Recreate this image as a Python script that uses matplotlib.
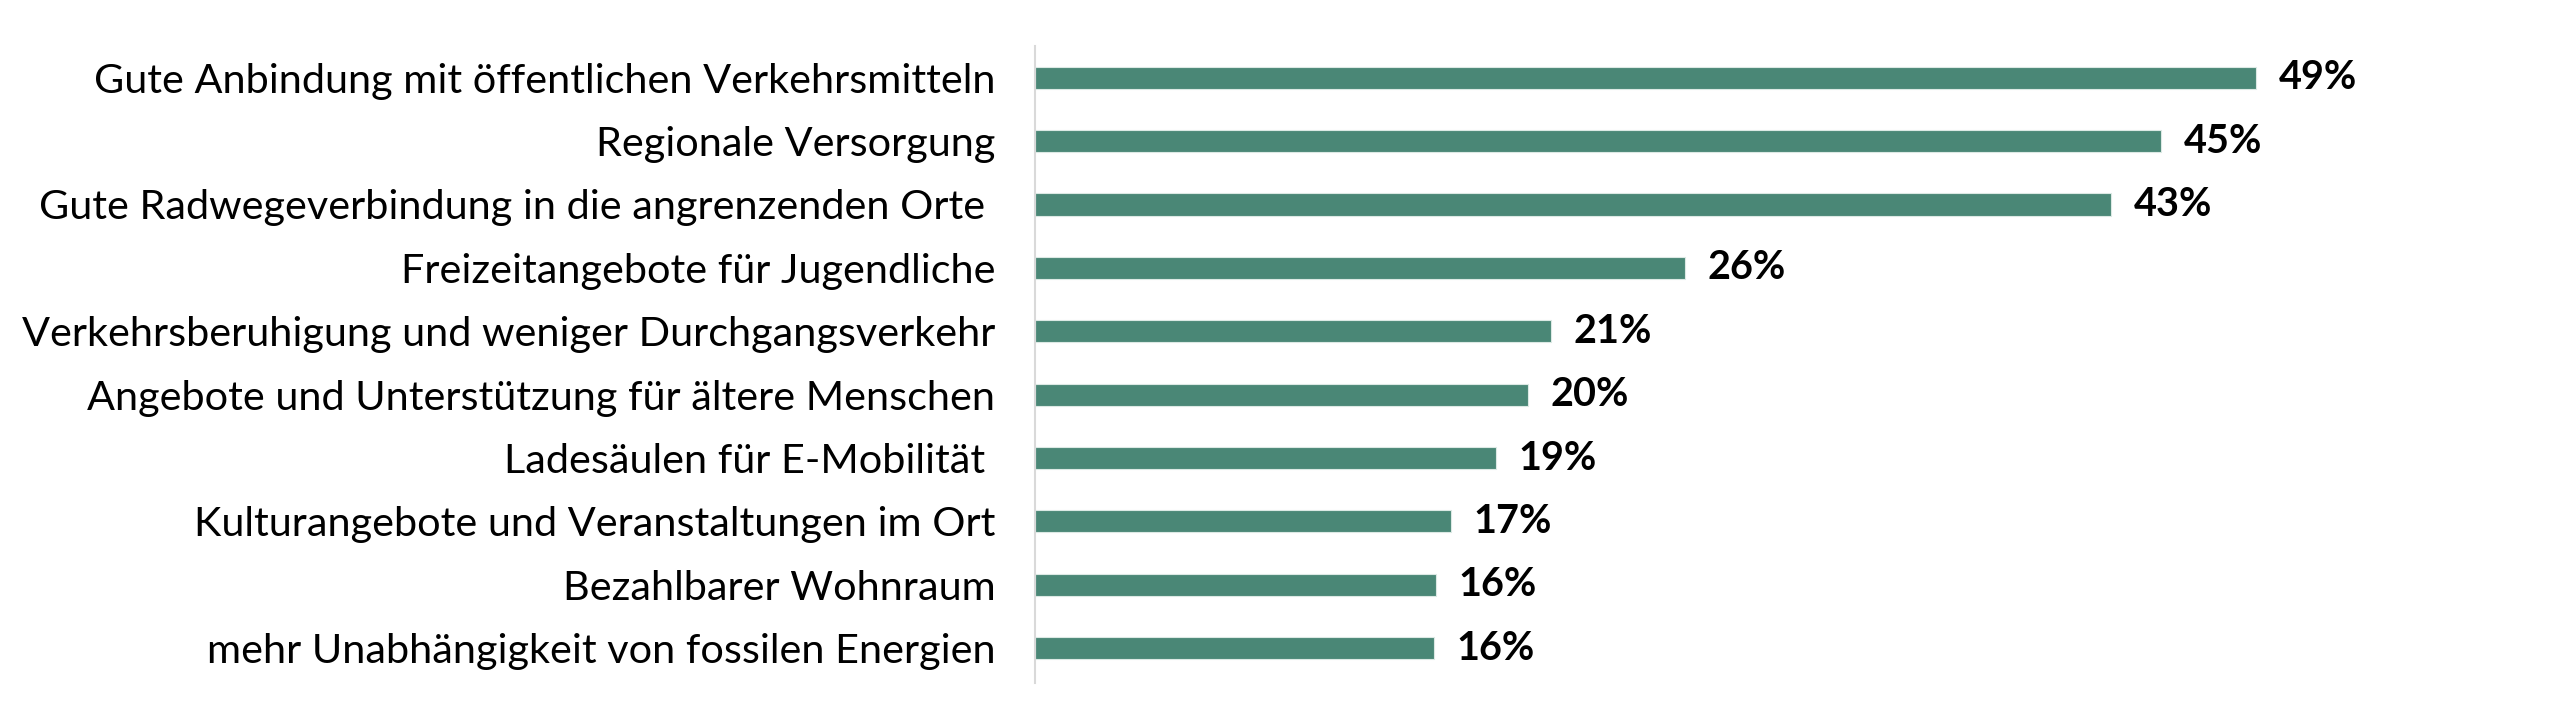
import matplotlib
matplotlib.use("Agg")
import matplotlib.pyplot as plt

categories = [
    "Gute Anbindung mit öffentlichen Verkehrsmitteln",
    "Regionale Versorgung",
    "Gute Radwegeverbindung in die angrenzenden Orte ",
    "Freizeitangebote für Jugendliche",
    "Verkehrsberuhigung und weniger Durchgangsverkehr",
    "Angebote und Unterstützung für ältere Menschen",
    "Ladesäulen für E-Mobilität ",
    "Kulturangebote und Veranstaltungen im Ort",
    "Bezahlbarer Wohnraum",
    "mehr Unabhängigkeit von fossilen Energien",
]
values = [49.0, 45.2, 43.2, 26.1, 20.7, 19.8, 18.5, 16.7, 16.1, 16.0]
labels = ["49%", "45%", "43%", "26%", "21%", "20%", "19%", "17%", "16%", "16%"]

plt.rcParams['font.family'] = ['Lato', 'DejaVu Sans']

fig = plt.figure(figsize=(25.6, 7.02), dpi=100)
ax = fig.add_axes([0.4043, 0.027, 0.584, 0.9075])

y = list(range(len(categories)))
ax.barh(y, values, height=0.35, color="#4a8776", edgecolor="#dce9e4", linewidth=0.8)

# value labels next to the bars
for yi, v, lab in zip(y, values, labels):
    ax.text(v + 0.9, yi, lab, va="center", ha="left", fontsize=28.5, fontweight="bold", color="black")

ax.set_xlim(0, 60)
ax.set_ylim(9.55, -0.5)
ax.set_yticks(y)
ax.set_yticklabels(categories, fontsize=29.8)
ax.tick_params(axis="y", length=0, pad=28.5)
ax.set_xticks([])
for s in ["top", "right", "bottom"]:
    ax.spines[s].set_visible(False)
ax.spines["left"].set_color("#d9d9d9")
ax.spines["left"].set_linewidth(1.5)

fig.savefig("out.png", dpi=100)
